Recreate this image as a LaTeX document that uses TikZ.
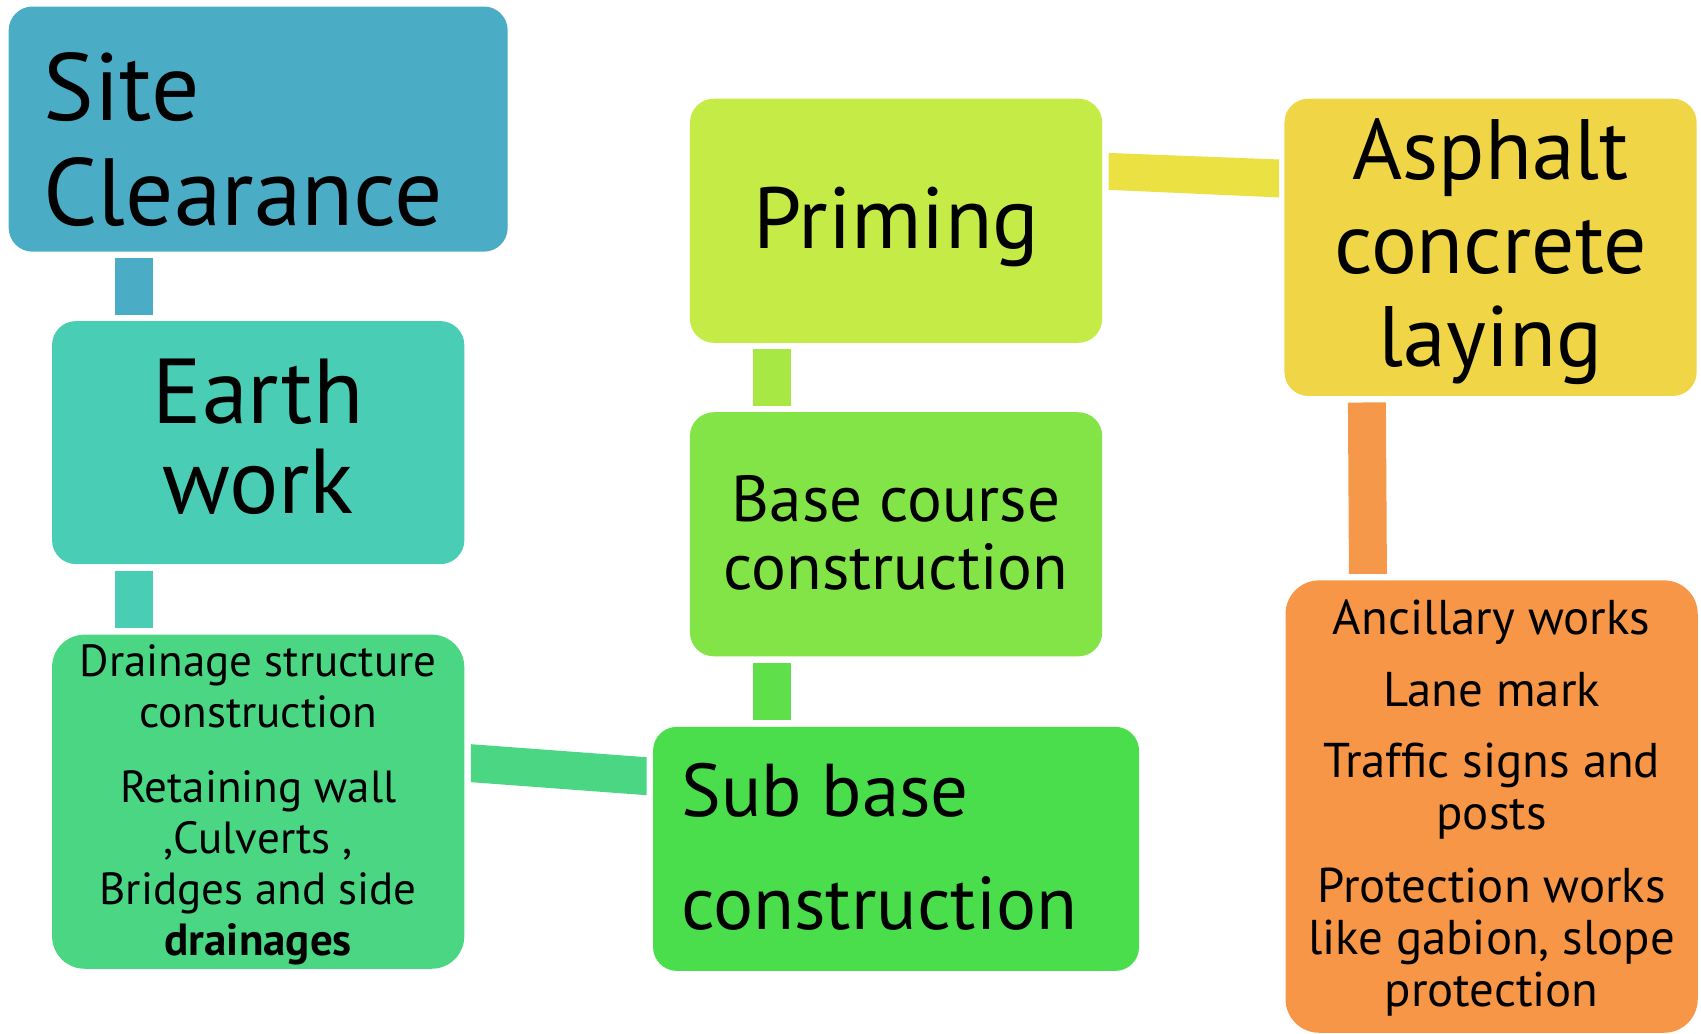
\documentclass[tikz,border=0pt]{standalone}
\usepackage{fontspec}
\setmainfont{PT Sans}
\usetikzlibrary{calc}
\definecolor{cSite}{HTML}{4BACC6}
\definecolor{cEarth}{HTML}{4ACDB5}
\definecolor{cDrain}{HTML}{4AD683}
\definecolor{cSub}{HTML}{4ADD4C}
\definecolor{cSubConn}{HTML}{5FE04A}
\definecolor{cBase}{HTML}{82E447}
\definecolor{cBaseConn}{HTML}{A8E845}
\definecolor{cPrim}{HTML}{C5EB47}
\definecolor{cPrimConn}{HTML}{EBE142}
\definecolor{cAsph}{HTML}{F0D647}
\definecolor{cAsphConn}{HTML}{F5984A}
\definecolor{cAnc}{HTML}{F79646}
\tikzset{
  box/.style={rounded corners=22pt, inner sep=0pt, outer sep=0pt, draw=none},
  conn/.style={line width=35pt, line cap=butt, shorten <=6pt, shorten >=6pt},
  txt/.style={inner sep=0pt, outer sep=0pt, text=black},
  fs/.style 2 args={font=\fontsize{#1pt}{#2pt}\selectfont}
}
\begin{document}
\begin{tikzpicture}[x=1pt, y=-1pt]
\useasboundingbox (0,0) rectangle (1568,953);
% boxes
\node[box, fill=cSite, minimum width=460pt, minimum height=226pt] (site) at (238,119) {};
\node[box, fill=cEarth, minimum width=380pt, minimum height=224pt] (earth) at (238,408) {};
\node[box, fill=cDrain, rounded corners=30pt, minimum width=380pt, minimum height=308pt] (drain) at (238,739) {};
\node[box, fill=cSub, minimum width=448pt, minimum height=225pt] (sub) at (826,782.5) {};
\node[box, fill=cBase, minimum width=380pt, minimum height=225pt] (base) at (826,492.5) {};
\node[box, fill=cPrim, minimum width=380pt, minimum height=225pt] (prim) at (826,203.5) {};
\node[box, fill=cAsph, minimum width=380pt, minimum height=274pt] (asph) at (1374,228) {};
\node[box, fill=cAnc, rounded corners=31pt, minimum width=380pt, minimum height=417pt] (anc) at (1375,743.5) {};
% connectors
\draw[conn, cSite] ($(site.south)+(-114.5,0)$) -- ($(earth.north)+(-114.5,0)$);
\draw[conn, cEarth] ($(earth.south)+(-114.5,0)$) -- ($(drain.north)+(-114.5,0)$);
\fill[cDrain] ($(drain.east)+(6,-53)$) -- ($(sub.west)+(-6,-84.5)$) -- ($(sub.west)+(-6,-49.5)$) -- ($(drain.east)+(6,-18)$) -- cycle;
\draw[conn, cSubConn] ($(sub.north)+(-114.5,0)$) -- ($(base.south)+(-114.5,0)$);
\draw[conn, cBaseConn] ($(base.north)+(-114.5,0)$) -- ($(prim.south)+(-114.5,0)$);
\fill[cPrimConn] ($(prim.east)+(6,-62.5)$) -- ($(asph.west)+(-5,-81)$) -- ($(asph.west)+(-5,-46)$) -- ($(prim.east)+(6,-28.5)$) -- cycle;
\draw[conn, cAsphConn] ($(asph.south)+(-114,0)$) -- ($(anc.north)+(-114,0)$);
% texts
\node[txt, fs={88}{97}, align=left, anchor=north west] (siteT) at (40,48.5) {Site\\Clearance};
\node[txt, fs={85}{83}, align=center, anchor=north] (earthT) at (238,330.5) {Earth\\work};
\node[txt, fs={41.5}{47}, align=center, anchor=north] (drainT) at (238,594.5)
  {Drainage structure\\construction\\[22pt]Retaining wall\\,Culverts ,\\Bridges and side\\\textbf{drainages}};
\node[txt, fs={69}{104}, align=left, anchor=north west] (subT) at (628,703.5) {Sub base\\construction};
\node[txt, fs={60}{63}, align=center, anchor=north] (baseT) at (826,438) {Base course\\construction};
\node[txt, fs={80}{90}, align=center, anchor=north] (primT) at (826,172) {Priming};
\node[txt, fs={79}{86}, align=center, anchor=north] (asphT) at (1374,109.5) {Asphalt\\concrete\\laying};
\node[txt, fs={45}{48}, align=center, anchor=north] (ancT) at (1375,553)
  {Ancillary works\\[18pt]Lane mark\\[18pt]Traffic signs and\\posts\\[19pt]Protection works\\like gabion, slope\\protection};
\end{tikzpicture}
\end{document}
